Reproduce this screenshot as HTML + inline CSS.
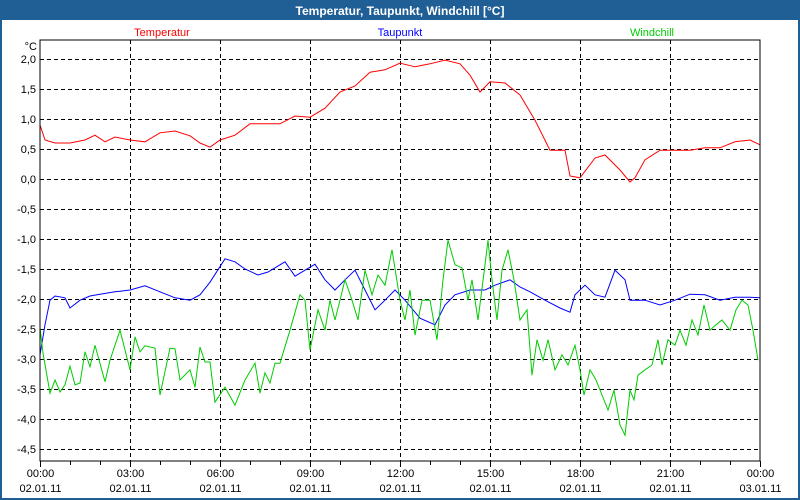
<!DOCTYPE html>
<html><head><meta charset="utf-8"><style>
body{margin:0;background:#fff;font-family:"Liberation Sans",sans-serif}
#wrap{position:relative;width:800px;height:500px;overflow:hidden}
</style></head><body>
<div id="wrap">
<svg id="chart" width="800" height="500" xmlns="http://www.w3.org/2000/svg">
<rect x="0" y="0" width="800" height="500" fill="#1f5f96"/>
<rect x="2" y="20" width="796" height="478" fill="#ffffff"/>
<text x="400" y="15" text-anchor="middle" fill="#fff" font-size="12" font-weight="bold">Temperatur, Taupunkt, Windchill [°C]</text>
<text x="162" y="36" text-anchor="middle" fill="#ff0000" font-size="11">Temperatur</text>
<text x="400" y="36" text-anchor="middle" fill="#0000ff" font-size="11">Taupunkt</text>
<text x="652" y="36" text-anchor="middle" fill="#00cc00" font-size="11">Windchill</text>
<text x="37" y="50" text-anchor="end" fill="#000" font-size="11">°C</text>
<g id="grid"></g><g id="series"></g>
<rect x="40" y="40" width="720" height="421" fill="none" stroke="#000" stroke-width="1"/>
<g id="axes"></g>
</svg>
</div>
<script>
const yTicks=[2,1.5,1,0.5,0,-0.5,-1,-1.5,-2,-2.5,-3,-3.5,-4,-4.5];
const xTickTimes=["00:00","03:00","06:00","09:00","12:00","15:00","18:00","21:00","00:00"];
const xTickDates=["02.01.11","02.01.11","02.01.11","02.01.11","02.01.11","02.01.11","02.01.11","02.01.11","03.01.11"];
const tempMin=[0,10,30,60,90,110,130,150,180,210,240,270,300,320,340,360,390,420,450,480,510,540,570,600,630,660,690,720,750,780,810,840,860,880,900,930,960,990,1020,1050,1060,1080,1110,1130,1160,1180,1190,1210,1240,1270,1300,1330,1360,1390,1420,1440];
const tempVal=[0.9,0.65,0.6,0.6,0.65,0.73,0.62,0.7,0.65,0.62,0.77,0.8,0.72,0.6,0.53,0.65,0.73,0.92,0.92,0.92,1.05,1.03,1.18,1.45,1.55,1.78,1.82,1.93,1.87,1.92,1.98,1.92,1.73,1.45,1.62,1.6,1.4,0.98,0.48,0.48,0.05,0.02,0.35,0.4,0.15,-0.05,0.02,0.32,0.48,0.48,0.48,0.52,0.52,0.62,0.65,0.57];
const dewMin=[0,10,20,30,50,60,80,100,120,150,160,180,210,240,270,300,320,340,370,390,410,436,456,470,490,510,530,550,570,590,610,630,650,670,690,710,730,760,790,810,830,860,890,910,940,960,980,1010,1040,1060,1070,1090,1110,1130,1150,1170,1180,1210,1240,1270,1300,1330,1360,1390,1420,1440];
const dewVal=[-2.93,-2.43,-2.02,-1.95,-1.98,-2.15,-2.02,-1.95,-1.92,-1.88,-1.87,-1.85,-1.78,-1.88,-1.98,-2.02,-1.93,-1.72,-1.33,-1.38,-1.5,-1.6,-1.55,-1.48,-1.38,-1.62,-1.52,-1.42,-1.68,-1.85,-1.68,-1.52,-1.85,-2.18,-2.02,-1.85,-2.02,-2.32,-2.43,-2.1,-1.93,-1.85,-1.85,-1.77,-1.68,-1.8,-1.88,-2.02,-2.15,-2.22,-1.93,-1.77,-1.93,-1.97,-1.52,-1.68,-2.02,-2.02,-2.1,-2.02,-1.92,-1.93,-2.02,-1.97,-1.97,-1.98];
const chillMin=[0,6,20,30,40,50,60,70,80,90,100,110,130,140,160,180,190,200,210,230,240,260,270,280,300,310,320,330,340,350,370,390,410,430,440,450,460,470,480,500,520,530,540,556,570,580,590,600,610,624,636,650,664,676,690,704,720,730,740,750,764,780,794,806,816,830,844,856,864,876,890,896,904,914,924,936,948,960,974,984,994,1006,1016,1030,1044,1056,1070,1080,1088,1100,1112,1124,1136,1148,1160,1170,1180,1188,1196,1210,1224,1236,1244,1256,1270,1280,1292,1304,1316,1328,1340,1352,1364,1380,1392,1404,1416,1426,1436];
const chillVal=[-2.48,-2.9,-3.57,-3.35,-3.55,-3.43,-3.12,-3.43,-3.4,-2.88,-3.13,-2.77,-3.38,-3.02,-2.52,-3.18,-2.63,-2.88,-2.78,-2.82,-3.6,-2.82,-2.83,-3.35,-3.18,-3.47,-2.8,-3.05,-3.05,-3.72,-3.47,-3.77,-3.35,-3.07,-3.57,-3.23,-3.4,-3.07,-3.07,-2.52,-1.93,-2.02,-2.85,-2.18,-2.52,-2.02,-2.35,-2.02,-1.68,-2.02,-2.35,-1.52,-1.93,-1.6,-1.77,-1.18,-2.02,-2.35,-1.85,-2.6,-2.02,-2.02,-2.68,-1.68,-1.02,-1.43,-1.48,-2.02,-1.68,-2.35,-1.43,-1.02,-1.68,-2.35,-1.52,-1.18,-1.68,-2.35,-2.18,-3.27,-2.68,-3.02,-2.68,-3.18,-2.93,-3.1,-2.77,-3.18,-3.6,-3.18,-3.35,-3.6,-3.85,-3.52,-4.1,-4.27,-3.52,-3.68,-3.27,-3.18,-3.1,-2.68,-3.1,-2.68,-2.77,-2.52,-2.77,-2.35,-2.6,-2.1,-2.52,-2.43,-2.35,-2.52,-2.18,-2.02,-2.1,-2.52,-3.02];

const NS="http://www.w3.org/2000/svg";
function xS(min){return 40+min*720/1440;}
function yS(v){return 59+(2-v)*60;}
function mk(tag,attrs,parent){const e=document.createElementNS(NS,tag);for(const k in attrs)e.setAttribute(k,attrs[k]);parent.appendChild(e);return e;}
const grid=document.getElementById('grid'),axes=document.getElementById('axes'),series=document.getElementById('series');
yTicks.forEach(v=>{
  const y=yS(v)+0.5;
  const l=mk('line',{x1:40,x2:760,y1:y,y2:y,stroke:'#000','stroke-dasharray':'4,3'},grid);
  
  
  const t=mk('text',{x:36,y:yS(v)+4,'text-anchor':'end','font-size':'11',fill:'#000'},axes);
  t.textContent=v.toFixed(1).replace('.',',');
  
  
});
xTickTimes.forEach((s,i)=>{
  const x=xS(i*180)+0.5;
  if(i>0&&i<8){
    const l=mk('line',{x1:x,x2:x,y1:40,y2:461,stroke:'#000','stroke-dasharray':'4,3'},grid);
    
    
  }
  const t=mk('text',{x:x,y:477,'text-anchor':'middle','font-size':'11',fill:'#000'},axes);
  t.textContent=s;
  
  
  const d=mk('text',{x:x,y:492,'text-anchor':'middle','font-size':'11',fill:'#000'},axes);
  d.textContent=xTickDates[i];
  
  
});
for(let h=0;h<=24;h++){
  const x=xS(h*60)+0.5;
  const l=mk('line',{x1:x,x2:x,y1:461,y2:(h%3==0?467:465),stroke:'#000'},axes);
  
  
}
function line(mins,vals,color,name){
  const n=Math.min(mins.length,vals.length);
  const pts=[];for(let i=0;i<n;i++)pts.push(xS(mins[i]).toFixed(1)+','+yS(vals[i]).toFixed(1));
  const p=mk('polyline',{points:pts.join(' '),fill:'none',stroke:color,'stroke-width':'1'},series);
  
  
}
line(tempMin,tempVal,'#ff0000','temperatur-line');
line(dewMin,dewVal,'#0000ff','taupunkt-line');
line(chillMin,chillVal,'#00cc00','windchill-line');
</script>
</body></html>
